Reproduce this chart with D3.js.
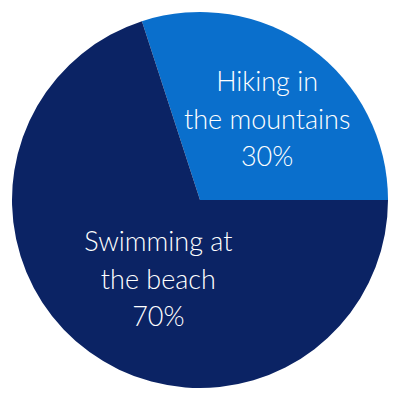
<!DOCTYPE html>
<html>
<head>
<meta charset="utf-8">
<script src="https://cdn.jsdelivr.net/npm/d3@7"></script>
<style>
  html, body { margin: 0; padding: 0; background: #fff; }
  svg { display: block; }
</style>
</head>
<body>
<svg id="chart" width="400" height="400"></svg>
<script>
const categories = ["Hiking in the mountains", "Swimming at the beach"];
const values = [30, 70];
const labelLines = [["Hiking in", "the mountains", "30%"], ["Swimming at", "the beach", "70%"]];
const colors = ["#0a6fcc", "#0b2364"];

const cx = 200, cy = 200, R = 188;
const svg = d3.select("#chart");
const g = svg.append("g").attr("transform", `translate(${cx},${cy})`);

const data = categories.map((c, i) => ({ name: c, value: values[i], lines: labelLines[i], color: colors[i] }));

const pie = d3.pie().value(d => d.value).sort(null).startAngle(-0.1 * Math.PI).endAngle(1.9 * Math.PI);
const arcs = pie(data);
const arc = d3.arc().innerRadius(0).outerRadius(R);

g.selectAll("path").data(arcs).enter().append("path")
  .attr("d", arc).attr("fill", d => d.data.color);

// label placement: centroid of a scaled arc, plus a small nudge
const labelOuter = [R * 1.215, R * 1.17];
const nudge = [[0, 21], [23, 0]];
const lineH = 37.5;
arcs.forEach((a, i) => {
  const la = d3.arc().innerRadius(0).outerRadius(labelOuter[i]);
  const [x0, y0] = la.centroid(a);
  const lx = x0 + nudge[i][0], ly = y0 + nudge[i][1];
  const t = g.append("text")
    .attr("text-anchor", "middle")
    .attr("fill", "#ffffff")
    .attr("font-family", "Lato, 'Open Sans', sans-serif")
    .attr("font-weight", 300)
    .attr("font-size", 27);
  a.data.lines.forEach((ln, j) => {
    t.append("tspan").attr("x", lx).attr("y", ly + (j - 1) * lineH).text(ln);
  });
});
</script>
</body>
</html>
